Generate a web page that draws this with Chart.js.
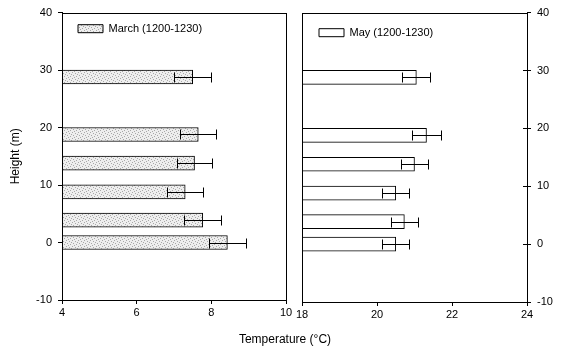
<!DOCTYPE html>
<html>
<head>
<meta charset="utf-8">
<script src="https://cdn.jsdelivr.net/npm/chart.js@4.4.0/dist/chart.umd.min.js"></script>
<style>
  body { margin: 0; background: #fff; }
  #wrap { position: relative; width: 565px; height: 355px; font-family: "Liberation Sans", Arial, sans-serif; }
  #leftBox { position: absolute; left: 0; top: 0; width: 298px; height: 355px; }
  #rightBox { position: absolute; left: 290px; top: 0; width: 275px; height: 355px; }
  #xTitle { position: absolute; left: 0; width: 570px; top: 332px; text-align: center; font-size: 12px; color: #000; }
</style>
</head>
<body>
<div id="wrap">
  <div id="leftBox"><canvas id="marchChart"></canvas></div>
  <div id="rightBox"><canvas id="mayChart"></canvas></div>
  <div id="xTitle">Temperature (°C)</div>
</div>
<script>
"use strict";

//--------------------DATA

// measurement heights (m)
let heights = [0, 3.9, 8.8, 13.8, 18.8, 28.8];

// March (1200-1230)
let marchTemps = [8.43, 7.77, 7.3, 7.55, 7.65, 7.5];
let marchErrors = [0.5, 0.49, 0.48, 0.48, 0.48, 0.5];

// May (1200-1230)
let mayTemps = [20.5, 20.73, 20.5, 21.0, 21.32, 21.05];
let mayErrors = [0.36, 0.35, 0.36, 0.36, 0.4, 0.37];

// tick labels
let heightTicks = [-10, 0, 10, 20, 30, 40];
let marchTicks = [4, 6, 8, 10];
let mayTicks = [18, 20, 22, 24];

//--------------------HELPERS

const FONT = "'Liberation Sans', Arial, sans-serif";

// dotted grey fill like the scanned bars
function makeStipple(ctx) {
  let c = document.createElement("canvas");
  c.width = 6;
  c.height = 6;
  let g = c.getContext("2d");
  g.fillStyle = "#eeeeee";
  g.fillRect(0, 0, 6, 6);
  g.fillStyle = "#a8a8a8";
  [[0, 0], [3, 1], [1, 3], [4, 4], [5, 2], [2, 5]].forEach(function (p) {
    g.fillRect(p[0], p[1], 1, 1);
  });
  return ctx.createPattern(c, "repeat");
}

function toPoints(temps) {
  let pts = [];
  for (let i = 0; i < temps.length; i++) {
    pts.push({ x: temps[i], y: heights[i] });
  }
  return pts;
}

function fixedTicks(list) {
  return function (scale) {
    scale.ticks = list.map(function (v) { return { value: v }; });
  };
}

// error bars drawn through the chart's own scales
const errorBars = {
  id: "errorBars",
  afterDatasetsDraw(chart, args, opts) {
    let ctx = chart.ctx;
    let xs = chart.scales.x;
    let ys = chart.scales.y;
    let data = chart.data.datasets[0].data;
    ctx.save();
    ctx.strokeStyle = "#000";
    ctx.lineWidth = 1;
    for (let i = 0; i < data.length; i++) {
      let y = Math.round(ys.getPixelForValue(data[i].y)) + 0.5;
      let x1 = Math.round(xs.getPixelForValue(data[i].x - opts.errors[i])) + 0.5;
      let x2 = Math.round(xs.getPixelForValue(data[i].x + opts.errors[i])) + 0.5;
      ctx.beginPath();
      ctx.moveTo(x1, y);
      ctx.lineTo(x2, y);
      ctx.moveTo(x1, y - 5);
      ctx.lineTo(x1, y + 5);
      ctx.moveTo(x2, y - 5);
      ctx.lineTo(x2, y + 5);
      ctx.stroke();
    }
    ctx.restore();
  },
};

// box round the plot area (+ inner ticks on a right-hand axis)
const frame = {
  id: "frame",
  afterDraw(chart, args, opts) {
    let a = chart.chartArea;
    let ctx = chart.ctx;
    ctx.save();
    ctx.strokeStyle = "#000";
    ctx.lineWidth = 1;
    ctx.strokeRect(Math.round(a.left) + 0.5, Math.round(a.top) + 0.5,
      Math.round(a.right - a.left), Math.round(a.bottom - a.top));
    if (opts.innerTicks) {
      let ys = chart.scales.y;
      ctx.beginPath();
      ys.ticks.forEach(function (t) {
        let y = Math.round(ys.getPixelForValue(t.value)) + 0.5;
        ctx.moveTo(a.right - 4, y);
        ctx.lineTo(a.right, y);
      });
      ctx.stroke();
    }
    ctx.restore();
  },
};

function buildChart(canvasId, cfg) {
  let ctx = document.getElementById(canvasId).getContext("2d");
  let fill = cfg.stippled ? makeStipple(ctx) : "#ffffff";
  return new Chart(ctx, {
    type: "bar",
    data: {
      datasets: [
        {
          label: cfg.label,
          data: toPoints(cfg.temps),
          base: cfg.xTicks[0],
          backgroundColor: fill,
          borderColor: "#000",
          borderWidth: 1,
          barThickness: 14,
        },
      ],
    },
    plugins: [errorBars, frame],
    options: {
      indexAxis: "y",
      responsive: true,
      maintainAspectRatio: false,
      animation: false,
      layout: { padding: cfg.padding },
      plugins: {
        legend: {
          position: "chartArea",
          align: "start",
          // empty title only used to push the legend row down a little
          title: { display: true, text: "", padding: { top: cfg.legendDrop, bottom: 0 }, font: { size: 1 } },
          labels: {
            boxWidth: 25,
            boxHeight: 8,
            padding: cfg.legendPad,
            color: "#000",
            font: { family: FONT, size: 11 },
          },
        },
        tooltip: { enabled: false },
        errorBars: { errors: cfg.errors },
        frame: { innerTicks: cfg.yPos === "right" },
      },
      scales: {
        x: {
          type: "linear",
          min: cfg.xTicks[0],
          max: cfg.xTicks[cfg.xTicks.length - 1],
          afterBuildTicks: fixedTicks(cfg.xTicks),
          afterFit: function (s) { s.height = 22; },
          border: { display: true, color: "#000", width: 1 },
          grid: { drawOnChartArea: false, drawTicks: true, tickLength: 4, color: "#000" },
          ticks: { color: "#000", padding: 2, maxRotation: 0, font: { family: FONT, size: 11 } },
        },
        y: {
          type: "linear",
          position: cfg.yPos,
          offset: false,
          min: heightTicks[0],
          max: heightTicks[heightTicks.length - 1],
          afterBuildTicks: fixedTicks(heightTicks),
          afterFit: function (s) { s.width = cfg.yWidth; },
          border: { display: true, color: "#000", width: 1 },
          grid: { offset: false, drawOnChartArea: false, drawTicks: true, tickLength: 4, color: "#000" },
          ticks: { color: "#000", padding: 6, font: { family: FONT, size: 11 } },
          title: {
            display: cfg.yTitle !== "",
            text: cfg.yTitle,
            color: "#000",
            padding: { top: 4, bottom: 0 },
            font: { family: FONT, size: 12 },
          },
        },
      },
    },
  });
}

//--------------------FUNCTION CALLS

buildChart("marchChart", {
  label: "March (1200-1230)",
  temps: marchTemps,
  errors: marchErrors,
  xTicks: marchTicks,
  stippled: true,
  yPos: "left",
  yWidth: 58,
  yTitle: "Height (m)",
  legendPad: 16,
  legendDrop: 6,
  padding: { left: 4, top: 9, right: 12, bottom: 33 },
});

buildChart("mayChart", {
  label: "May (1200-1230)",
  temps: mayTemps,
  errors: mayErrors,
  xTicks: mayTicks,
  stippled: false,
  yPos: "right",
  yWidth: 38,
  yTitle: "",
  legendPad: 17,
  legendDrop: 9,
  padding: { left: 12, top: 12, right: 0, bottom: 31 },
});
</script>
</body>
</html>
